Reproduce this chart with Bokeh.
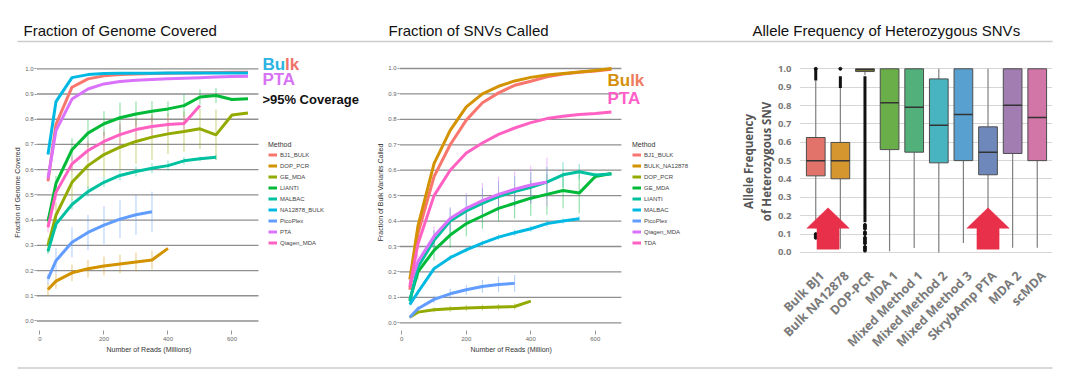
import math
from bokeh.plotting import figure
from bokeh.layouts import row, column
from bokeh.models import (Range1d, FixedTicker, PrintfTickFormatter, Legend,
                          LegendItem, Label, LinearAxis, Title)
from bokeh.embed import file_html
from bokeh.resources import INLINE

# ---------------- data: panel 1 (Fraction of Genome Covered) ----------------
reads = [25, 50, 100, 150, 200, 250, 300, 350, 400, 450, 500, 550, 600, 650]

cov_methods = ["BJ1_BULK", "DOP_PCR", "GE_MDA", "LIANTI", "MALBAC",
               "NA12878_BULK", "PicoPlex", "PTA", "Qiagen_MDA"]
cov_colors = ["#F8766D", "#D39200", "#93AA00", "#00BA38", "#00C19F",
              "#00B9E3", "#619CFF", "#DB72FB", "#FF61C3"]

cov_bj1_bulk = [0.555, 0.78, 0.927, 0.96, 0.972, 0.977, 0.979, 0.981, 0.982, 0.983, 0.984, 0.985, 0.986, 0.986]
cov_dop_pcr = [0.125, 0.158, 0.191, 0.207, 0.218, 0.226, 0.234, 0.242, 0.288]
cov_ge_mda = [0.299, 0.42, 0.55, 0.616, 0.66, 0.689, 0.712, 0.729, 0.742, 0.751, 0.762, 0.738, 0.817, 0.825]
cov_lianti = [0.395, 0.546, 0.679, 0.745, 0.782, 0.806, 0.821, 0.832, 0.841, 0.854, 0.888, 0.894, 0.878, 0.881]
cov_malbac = [0.276, 0.384, 0.462, 0.513, 0.55, 0.577, 0.593, 0.606, 0.616, 0.635, 0.643, 0.649]
cov_na12878_bulk = [0.66, 0.87, 0.965, 0.977, 0.981, 0.982, 0.982, 0.982, 0.983, 0.983, 0.983, 0.983, 0.983, 0.983]
cov_picoplex = [0.167, 0.239, 0.312, 0.351, 0.38, 0.404, 0.421, 0.433]
cov_pta = [0.565, 0.755, 0.88, 0.92, 0.94, 0.95, 0.955, 0.958, 0.961, 0.963, 0.965, 0.967, 0.969, 0.97]
cov_qiagen_mda = [0.371, 0.51, 0.623, 0.676, 0.712, 0.739, 0.759, 0.771, 0.779, 0.783, 0.854]

# error-bar half widths (empty = no visible bars)
cov_err_bj1_bulk = []
cov_err_dop_pcr = [0.025, 0.03, 0.033, 0.035, 0.037, 0.037, 0.037, 0.037, 0.0]
cov_err_ge_mda = [0.03, 0.05, 0.07, 0.09, 0.09, 0.09, 0.09, 0.09, 0.08, 0.08, 0.08, 0.1, 0.0, 0.0]
cov_err_lianti = [0.02, 0.03, 0.045, 0.055, 0.05, 0.06, 0.05, 0.04, 0.03, 0.045, 0.03, 0.03, 0.0, 0.0]
cov_err_malbac = [0.01, 0.02, 0.02, 0.02, 0.02, 0.02, 0.02, 0.02, 0.02, 0.015, 0.01, 0.01]
cov_err_na12878_bulk = []
cov_err_picoplex = [0.02, 0.05, 0.06, 0.07, 0.075, 0.075, 0.08, 0.08]
cov_err_pta = [0.015, 0.0, 0.0, 0.0, 0.0, 0.0, 0.0, 0.0, 0.0, 0.0, 0.0, 0.0, 0.0, 0.0]
cov_err_qiagen_mda = [0.02, 0.03, 0.03, 0.04, 0.04, 0.05, 0.04, 0.04, 0.03, 0.03, 0.0]

# ---------------- data: panel 2 (Fraction of SNVs Called) ----------------
snv_methods = ["BJ1_BULK", "BULK_NA12878", "DOP_PCR", "GE_MDA", "LIANTI",
               "MALBAC", "PicoPlex", "Qiagen_MDA", "TDA"]
snv_colors = ["#F8766D", "#D39200", "#93AA00", "#00BA38", "#00C19F",
              "#00B9E3", "#619CFF", "#DB72FB", "#FF61C3"]

snv_bj1_bulk = [0.13, 0.35, 0.575, 0.70, 0.797, 0.865, 0.904, 0.934, 0.95, 0.967, 0.978, 0.985, 0.99, 0.997]
snv_bulk_na12878 = [0.17, 0.38, 0.626, 0.757, 0.849, 0.90, 0.93, 0.951, 0.965, 0.974, 0.98, 0.986, 0.992, 1.0]
snv_dop_pcr = [0.022, 0.042, 0.051, 0.055, 0.058, 0.06, 0.062, 0.064, 0.085]
snv_ge_mda = [0.09, 0.20, 0.285, 0.345, 0.39, 0.42, 0.45, 0.47, 0.49, 0.505, 0.52, 0.51, 0.575, 0.587]
snv_lianti = [0.085, 0.22, 0.324, 0.40, 0.44, 0.47, 0.496, 0.516, 0.533, 0.553, 0.582, 0.594, 0.581, 0.585]
snv_malbac = [0.072, 0.12, 0.213, 0.256, 0.287, 0.313, 0.337, 0.354, 0.37, 0.39, 0.40, 0.409]
snv_picoplex = [0.022, 0.055, 0.092, 0.114, 0.13, 0.143, 0.151, 0.155]
snv_qiagen_mda = [0.15, 0.24, 0.34, 0.41, 0.45, 0.48, 0.505, 0.525, 0.542, 0.554]
snv_tda = [0.14, 0.31, 0.50, 0.60, 0.668, 0.707, 0.741, 0.766, 0.787, 0.803, 0.812, 0.819, 0.823, 0.829]

snv_err_bj1_bulk = []
snv_err_bulk_na12878 = []
snv_err_dop_pcr = [0.003, 0.008, 0.01, 0.012, 0.012, 0.012, 0.012, 0.012, 0.0]
snv_err_ge_mda = [0.01, 0.03, 0.04, 0.05, 0.05, 0.05, 0.05, 0.06, 0.07, 0.08, 0.07, 0.08, 0.01, 0.0]
snv_err_lianti = [0.01, 0.03, 0.04, 0.05, 0.06, 0.06, 0.06, 0.06, 0.06, 0.06, 0.05, 0.03, 0.01, 0.0]
snv_err_malbac = [0.005, 0.01, 0.01, 0.01, 0.01, 0.01, 0.01, 0.012, 0.012, 0.012, 0.01, 0.01]
snv_err_picoplex = [0.005, 0.01, 0.015, 0.02, 0.02, 0.025, 0.03, 0.033]
snv_err_qiagen_mda = [0.02, 0.03, 0.04, 0.045, 0.06, 0.07, 0.07, 0.07, 0.075, 0.095]
snv_err_tda = []

# ---------------- data: panel 3 (Allele Frequency boxplots) ----------------
af_cats = ["Bulk BJ1", "Bulk NA12878", "DOP-PCR", "MDA 1", "Mixed Method 1",
           "Mixed Method 2", "Mixed Method 3", "SkrybAmp PTA", "MDA 2", "scMDA"]
af_q1 = [0.417, 0.401, 0.985, 0.56, 0.546, 0.488, 0.50, 0.423, 0.539, 0.50]
af_med = [0.50, 0.50, 0.995, 0.815, 0.791, 0.693, 0.751, 0.546, 0.802, 0.735]
af_q3 = [0.626, 0.599, 1.0, 1.0, 1.0, 0.945, 1.0, 0.684, 1.0, 1.0]
af_whisk_lo = [0.13, 0.02, 0.965, 0.007, 0.024, 0.0, 0.051, 0.03, 0.025, 0.025]
af_whisk_hi = [0.936, 0.896, 1.0, 1.0, 1.0, 1.0, 1.0, 1.0, 1.0, 1.0]
# dense outlier runs (category index, low, high)
af_dense_cat = [0, 1, 2]
af_dense_lo = [0.936, 0.896, 0.165]
af_dense_hi = [1.0, 0.96, 0.96]
# individual outliers
af_out_cat = [0, 0, 0, 0, 1, 2, 2, 2, 2, 2, 2, 2, 2, 2, 2, 2, 2]
af_out_val = [1.0, 0.10, 0.09, 0.08, 1.0, 0.15, 0.14, 0.13, 0.11, 0.10, 0.08,
              0.07, 0.06, 0.05, 0.03, 0.02, 0.01]
af_colors = ["#E1736B", "#D5962F", "#A9A830", "#6AAE49", "#52B07B",
             "#48B4C0", "#58A0CF", "#6F88BB", "#A27DB1", "#D176A7"]
arrow_cat = [0.5, 7.0]   # red arrows point at the bulk pair and at PTA

FONT = "Liberation Sans"
OS = "Open Sans"
Y_TICKS = [i / 10 for i in range(11)]


def line_panel(series, colors, methods, width, xr, data_x, yr, ylabel, xlabel,
               xlabel_offset, bl, legend_xy):
    p = figure(width=width, height=310, x_range=Range1d(*xr), y_range=Range1d(*yr),
               min_border_left=bl, min_border_right=0, min_border_top=4,
               min_border_bottom=30, toolbar_location=None, output_backend="svg")
    p.frame_align = False
    p.outline_line_color = None
    p.xgrid.visible = False
    p.ygrid.visible = False
    # horizontal grid lines limited to the data panel
    p.segment(x0=[data_x[0]] * len(Y_TICKS), y0=Y_TICKS, x1=[data_x[1]] * len(Y_TICKS),
              y1=Y_TICKS, line_color="#8f8f8f", line_width=1.3, level="underlay")
    p.yaxis.ticker = FixedTicker(ticks=Y_TICKS)
    p.yaxis.formatter = PrintfTickFormatter(format="%.1f")
    p.xaxis.ticker = FixedTicker(ticks=[0, 200, 400, 600])
    p.xaxis.bounds = data_x
    for ax in (p.xaxis[0], p.yaxis[0]):
        ax.axis_line_color = None
        ax.major_tick_line_color = "#999999"
        ax.minor_tick_line_color = None
        ax.major_tick_in = 0
        ax.major_label_text_font = FONT
        ax.major_label_text_font_size = "6px"
        ax.major_label_text_color = "#666666"
        ax.axis_label_text_font = FONT
        ax.axis_label_text_font_size = "7px"
        ax.axis_label_text_font_style = "normal"
        ax.axis_label_text_color = "#333333"
        ax.axis_label_standoff = 1
    p.xaxis.major_tick_out = 4
    p.xaxis.major_label_standoff = 2
    p.yaxis.major_tick_out = 2
    p.yaxis.major_label_standoff = 1
    p.yaxis.axis_label = ylabel
    # x-axis title centred under the data panel (not the whole frame)
    p.add_layout(Title(text=xlabel, align="left", offset=xlabel_offset, standoff=0,
                       text_font=FONT, text_font_size="7px", text_font_style="normal",
                       text_color="#333333"), "below")

    for (vals, errs), col in zip(series, colors):
        if errs:
            xe = [reads[i] for i in range(len(errs)) if errs[i] > 0]
            lo = [vals[i] - errs[i] for i in range(len(errs)) if errs[i] > 0]
            hi = [vals[i] + errs[i] for i in range(len(errs)) if errs[i] > 0]
            p.segment(x0=xe, y0=lo, x1=xe, y1=hi, line_color=col,
                      line_alpha=0.5, line_width=1)
    items = []
    for (vals, errs), col, name in zip(series, colors, methods):
        r = p.line(reads[:len(vals)], vals, line_color=col, line_width=3)
        items.append(LegendItem(label=name, renderers=[r]))
    leg = Legend(items=items, title="Method", location=legend_xy,
                 title_text_font=FONT, title_text_font_size="7px",
                 title_text_font_style="normal", title_text_color="#333333",
                 title_standoff=2,
                 label_text_font=FONT, label_text_font_size="6px",
                 label_text_color="#444444",
                 glyph_width=9, glyph_height=9, label_height=9,
                 label_standoff=3, spacing=2, padding=0, margin=0,
                 border_line_color=None, background_fill_alpha=0)
    p.add_layout(leg)
    return p


def big_label(p, x, y, text, color, size="17px"):
    p.add_layout(Label(x=x, y=y, text=text, text_color=color, text_font=FONT,
                       text_font_size=size, text_font_style="bold",
                       text_baseline="middle"))


# ---------------- panel 1 ----------------
cov_series = [(cov_bj1_bulk, cov_err_bj1_bulk), (cov_dop_pcr, cov_err_dop_pcr),
              (cov_ge_mda, cov_err_ge_mda), (cov_lianti, cov_err_lianti),
              (cov_malbac, cov_err_malbac), (cov_na12878_bulk, cov_err_na12878_bulk),
              (cov_picoplex, cov_err_picoplex), (cov_pta, cov_err_pta),
              (cov_qiagen_mda, cov_err_qiagen_mda)]
p1 = line_panel(cov_series, cov_colors, cov_methods, 368, (-10.9, 1026.6), (-10.9, 682.8),
                (-0.0377, 1.0567), "Fraction of Genome Covered",
                "Number of Reads (Millions)", 70, 36, (232, 83))
big_label(p1, 695, 1.017, "Bu", "#2BB3E3")
big_label(p1, 766, 1.017, "lk", "#F0706A")
big_label(p1, 695, 0.9576, "PTA", "#D872F5")
big_label(p1, 695, 0.878, ">95% Coverage", "#111111", "13px")

# ---------------- panel 2 ----------------
snv_series = [(snv_bj1_bulk, snv_err_bj1_bulk), (snv_bulk_na12878, snv_err_bulk_na12878),
              (snv_dop_pcr, snv_err_dop_pcr), (snv_ge_mda, snv_err_ge_mda),
              (snv_lianti, snv_err_lianti), (snv_malbac, snv_err_malbac),
              (snv_picoplex, snv_err_picoplex), (snv_qiagen_mda, snv_err_qiagen_mda),
              (snv_tda, snv_err_tda)]
p2 = line_panel(snv_series, snv_colors, snv_methods, 360, (-7.1, 1013.0), (-7.1, 681.0),
                (-0.0303, 1.055), "Fraction of Bulk Variants Called",
                "Number of Reads (Million)", 71, 31, (233, 83))
big_label(p2, 638, 0.953, "Bu", "#D4900A")
big_label(p2, 708, 0.953, "lk", "#EE7C62")
big_label(p2, 638, 0.882, "PTA", "#FF5EC8")

# ---------------- panel 3 ----------------
p3 = figure(width=344, height=310, x_range=Range1d(-0.66, 9.62),
            y_range=Range1d(-0.022, 1.0125), min_border_left=71, min_border_right=20,
            min_border_top=16, min_border_bottom=104, toolbar_location=None,
            x_axis_location=None, output_backend="svg")
p3.frame_align = False
p3.outline_line_color = None
p3.xgrid.visible = False
p3.ygrid.grid_line_color = "#d6d6d6"
p3.ygrid.grid_line_width = 1.2
p3.ygrid.ticker = FixedTicker(ticks=Y_TICKS)
p3.yaxis.ticker = FixedTicker(ticks=Y_TICKS)
p3.yaxis.formatter = PrintfTickFormatter(format="%.1f")
idx = list(range(len(af_cats)))
# label axis on a slightly shifted range so the rotated labels sit like the reference
p3.extra_x_ranges = {"lab": Range1d(-0.66 - 0.25, 9.62 - 0.25)}
xax = LinearAxis(x_range_name="lab", ticker=FixedTicker(ticks=idx),
                 major_label_overrides={i: c for i, c in zip(idx, af_cats)},
                 major_label_orientation=math.pi / 4)
p3.add_layout(xax, "below")
for ax in (xax, p3.yaxis[0]):
    ax.axis_line_color = None
    ax.major_tick_line_color = None
    ax.minor_tick_line_color = None
    ax.major_label_text_font = OS
    ax.major_label_text_font_style = "bold"
    ax.major_label_text_color = "#7a7a7a"
xax.major_label_text_font_size = "12.5px"
xax.major_label_standoff = 11
p3.yaxis.major_label_text_font_size = "9.5px"
p3.yaxis.major_label_standoff = 2
p3.yaxis.axis_label = "Allele Frequency\nof Heterozygous SNV"
p3.yaxis.axis_label_text_font = OS
p3.yaxis.axis_label_text_font_size = "11.5px"
p3.yaxis.axis_label_text_font_style = "bold"
p3.yaxis.axis_label_text_color = "#555555"
p3.yaxis.axis_label_standoff = 1

p3.segment(x0=idx, y0=af_q3, x1=idx, y1=af_whisk_hi, line_color="#7f7f7f", line_width=1.2)
p3.segment(x0=idx, y0=af_whisk_lo, x1=idx, y1=af_q1, line_color="#7f7f7f", line_width=1.2)
p3.segment(x0=af_dense_cat, y0=af_dense_lo, x1=af_dense_cat, y1=af_dense_hi,
           line_color="#111111", line_width=3)
p3.scatter(af_out_cat, af_out_val, size=3, color="#111111")
bw = 0.76
p3.vbar(x=idx, width=bw, bottom=af_q1, top=af_q3, fill_color=af_colors,
        line_color="#4d4d4d", line_width=1)
p3.segment(x0=[i - bw / 2 for i in idx], y0=af_med, x1=[i + bw / 2 for i in idx],
           y1=af_med, line_color="#333333", line_width=1.5)
# red block arrows (annotations)
axs, ays = [], []
for c in arrow_cat:
    axs.append([c, c + 0.86, c + 0.45, c + 0.45, c - 0.45, c - 0.45, c - 0.86])
    ays.append([0.243, 0.132, 0.132, 0.018, 0.018, 0.132, 0.132])
p3.patches(axs, ays, fill_color="#E8304A", line_color="#E8304A", line_width=0.5)

# ---------------- header / footer ----------------
hdr = figure(width=1072, height=50, x_range=Range1d(0, 1072), y_range=Range1d(50, 0),
             x_axis_type=None, y_axis_type=None, min_border=0,
             toolbar_location=None, output_backend="svg")
hdr.outline_line_color = None
hdr.grid.visible = False
hdr.segment(x0=[17], y0=[41], x1=[1052], y1=[41], line_color="#cccccc", line_width=1.5)
for tx, t in [(23, "Fraction of Genome Covered"), (388, "Fraction of SNVs Called"),
              (752, "Allele Frequency of Heterozygous SNVs")]:
    hdr.add_layout(Label(x=tx, y=29.5, text=t, text_font=FONT, text_font_size="15px",
                         text_color="#111111", text_baseline="alphabetic"))

ftr = figure(width=1072, height=15, x_range=Range1d(0, 1072), y_range=Range1d(375, 360),
             x_axis_type=None, y_axis_type=None, min_border=0,
             toolbar_location=None, output_backend="svg")
ftr.outline_line_color = None
ftr.grid.visible = False
ftr.segment(x0=[17], y0=[367.5], x1=[1052], y1=[367.5], line_color="#cccccc", line_width=1.5)

layout = column(hdr, row(p1, p2, p3), ftr)
open("out.html", "w").write(file_html(layout, INLINE))
